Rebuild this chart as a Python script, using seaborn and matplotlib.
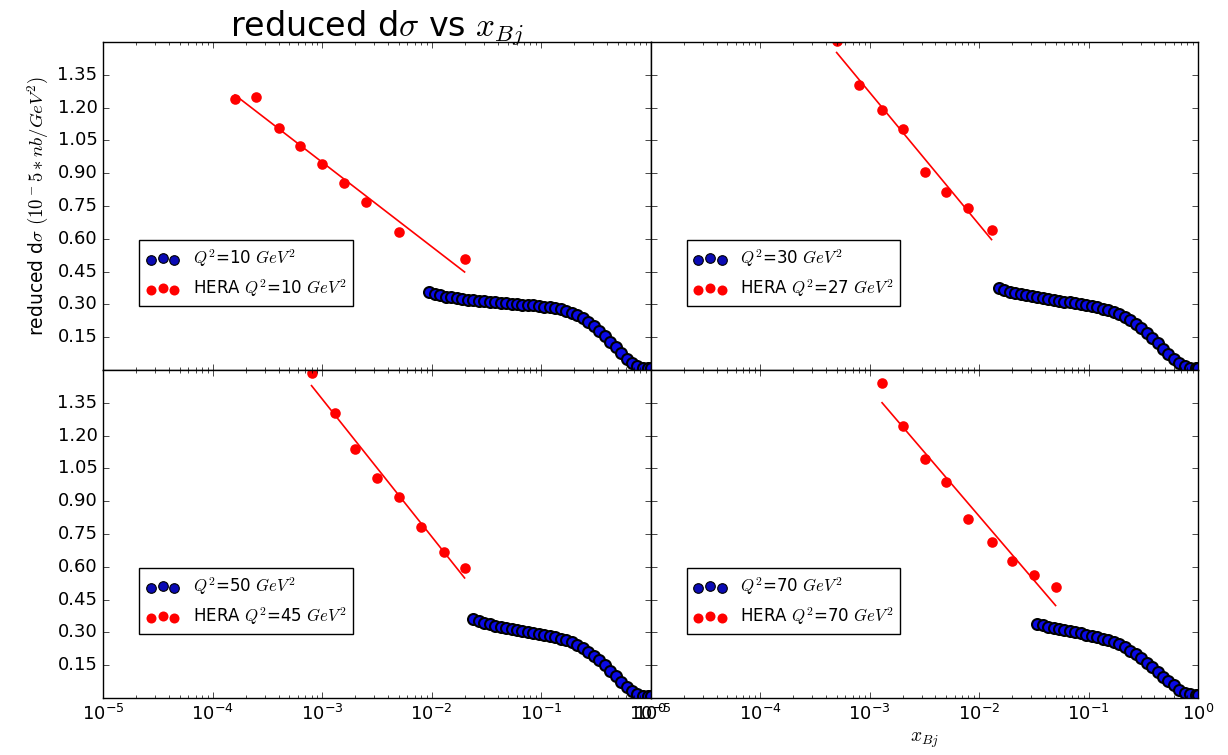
import numpy as np
import seaborn as sns
import matplotlib
matplotlib.use("Agg")
import matplotlib.pyplot as plt

# model curves
x_q10 = [0.00955, 0.0107, 0.0120, 0.0135, 0.0151, 0.0170, 0.0191, 0.0214, 0.0240, 0.0269,
         0.0302, 0.0339, 0.0380, 0.0427, 0.0479, 0.0537, 0.0603, 0.0676, 0.0759, 0.0851,
         0.0955, 0.107, 0.120, 0.135, 0.151, 0.170, 0.191, 0.214, 0.240, 0.269,
         0.302, 0.339, 0.380, 0.427, 0.479, 0.537, 0.603, 0.676, 0.759, 0.851,
         0.955, 1.0]
y_q10 = [0.356, 0.348, 0.341, 0.336, 0.332, 0.328, 0.325, 0.322, 0.319, 0.316,
         0.314, 0.311, 0.309, 0.307, 0.305, 0.303, 0.301, 0.299, 0.297, 0.295,
         0.293, 0.290, 0.287, 0.282, 0.277, 0.270, 0.261, 0.250, 0.237, 0.220,
         0.200, 0.178, 0.154, 0.129, 0.103, 0.076, 0.052, 0.031, 0.017, 0.011,
         0.009, 0.008]

x_q30 = [0.0151, 0.0170, 0.0191, 0.0214, 0.0240, 0.0269,
         0.0302, 0.0339, 0.0380, 0.0427, 0.0479, 0.0537, 0.0603, 0.0676, 0.0759, 0.0851,
         0.0955, 0.107, 0.120, 0.135, 0.151, 0.170, 0.191, 0.214, 0.240, 0.269,
         0.302, 0.339, 0.380, 0.427, 0.479, 0.537, 0.603, 0.676, 0.759, 0.851,
         0.955, 1.0]
y_q30 = [0.375, 0.365, 0.357, 0.351, 0.346, 0.341,
         0.337, 0.333, 0.329, 0.325, 0.321, 0.317, 0.313, 0.309, 0.305, 0.301,
         0.296, 0.291, 0.286, 0.280, 0.273, 0.265, 0.255, 0.243, 0.229, 0.212,
         0.193, 0.171, 0.148, 0.123, 0.098, 0.073, 0.050, 0.030, 0.017, 0.011,
         0.009, 0.008]

x_q50 = [0.0240, 0.0269,
         0.0302, 0.0339, 0.0380, 0.0427, 0.0479, 0.0537, 0.0603, 0.0676, 0.0759, 0.0851,
         0.0955, 0.107, 0.120, 0.135, 0.151, 0.170, 0.191, 0.214, 0.240, 0.269,
         0.302, 0.339, 0.380, 0.427, 0.479, 0.537, 0.603, 0.676, 0.759, 0.851,
         0.955, 1.0]
y_q50 = [0.363, 0.352,
         0.344, 0.337, 0.331, 0.326, 0.321, 0.316, 0.311, 0.306, 0.302, 0.298,
         0.293, 0.289, 0.284, 0.278, 0.272, 0.264, 0.254, 0.242, 0.228, 0.212,
         0.193, 0.172, 0.149, 0.125, 0.100, 0.075, 0.052, 0.032, 0.018, 0.011,
         0.009, 0.008]

x_q70 = [0.0339, 0.0380, 0.0427, 0.0479, 0.0537, 0.0603, 0.0676, 0.0759, 0.0851,
         0.0955, 0.107, 0.120, 0.135, 0.151, 0.170, 0.191, 0.214, 0.240, 0.269,
         0.302, 0.339, 0.380, 0.427, 0.479, 0.537, 0.603, 0.676, 0.759, 0.851,
         0.955, 1.0]
y_q70 = [0.340, 0.332, 0.326, 0.321, 0.316, 0.311, 0.306, 0.301, 0.296,
         0.290, 0.284, 0.278, 0.271, 0.264, 0.256, 0.245, 0.232, 0.217, 0.200,
         0.181, 0.161, 0.140, 0.119, 0.098, 0.078, 0.058, 0.038, 0.025, 0.018,
         0.015, 0.014]

# HERA data
hx_q10 = [1.6e-4, 2.5e-4, 4.0e-4, 6.3e-4, 1.0e-3, 1.6e-3, 2.5e-3, 5.0e-3, 2.0e-2]
hy_q10 = [1.241, 1.247, 1.106, 1.024, 0.941, 0.857, 0.767, 0.629, 0.507]

hx_q27 = [5.0e-4, 8.0e-4, 1.3e-3, 2.0e-3, 3.2e-3, 5.0e-3, 8.0e-3, 1.3e-2]
hy_q27 = [1.505, 1.303, 1.190, 1.103, 0.907, 0.813, 0.740, 0.640]

hx_q45 = [8.0e-4, 1.3e-3, 2.0e-3, 3.2e-3, 5.0e-3, 8.0e-3, 1.3e-2, 2.0e-2]
hy_q45 = [1.485, 1.304, 1.138, 1.005, 0.917, 0.782, 0.668, 0.596]

hx_q70 = [1.3e-3, 2.0e-3, 3.2e-3, 5.0e-3, 8.0e-3, 1.3e-2, 2.0e-2, 3.2e-2, 5.0e-2]
hy_q70 = [1.441, 1.243, 1.094, 0.987, 0.820, 0.713, 0.625, 0.561, 0.506]

q2_model = [10, 30, 50, 70]
q2_hera = [10, 27, 45, 70]

plt.style.use('classic')

fig, axes = plt.subplots(2, 2, sharex=True, sharey=True, figsize=(12.28, 7.55))
fig.subplots_adjust(left=0.084, right=0.9756, top=0.9444, bottom=0.0755, hspace=0, wspace=0)

panels = [(x_q10, y_q10, hx_q10, hy_q10), (x_q30, y_q30, hx_q27, hy_q27),
          (x_q50, y_q50, hx_q45, hy_q45), (x_q70, y_q70, hx_q70, hy_q70)]

for i, (ax, (mx, my, hx, hy)) in enumerate(zip(axes.flatten(), panels)):
    ax.set_xscale('log')
    sns.scatterplot(x=mx, y=my, ax=ax, color='#0a0ae6', edgecolor='black', linewidth=1.5,
                    s=62, label=r'$Q^2$=%d $GeV^2$' % q2_model[i])
    sns.scatterplot(x=hx, y=hy, ax=ax, color='red', edgecolor='red', linewidth=0,
                    s=58, label=r'HERA $Q^2$=%d $GeV^2$' % q2_hera[i])
    # linear fit in log(x)
    p = np.polyfit(np.log10(hx), hy, 1)
    xf = np.array([min(hx), max(hx)])
    sns.lineplot(x=xf, y=np.polyval(p, np.log10(xf)), ax=ax, color='red', linewidth=1.2)
    ax.set_xlim(1e-5, 1)
    ax.set_ylim(0, 1.5)
    ax.set_yticks([0.15, 0.30, 0.45, 0.60, 0.75, 0.90, 1.05, 1.20, 1.35])
    leg = ax.legend(loc='lower left', bbox_to_anchor=(0.066, 0.196), borderaxespad=0,
                    fontsize=12, scatterpoints=3)
    blue = leg.legend_handles[0]
    blue.set_sizes([48])
    blue.set_linewidth(0.8)
    blue.set_facecolor('#0a0ab4')
    leg.legend_handles[1].set_sizes([52])
    ax.tick_params(labelsize=13)

axes[0, 0].set_title(r'reduced d$\sigma$ vs $x_{Bj}$', fontsize=24)
axes[0, 0].set_ylabel(r'reduced d$\sigma$ $(10^-5*nb/GeV^2)$', fontsize=13.5)
axes[1, 1].set_xlabel(r'$x_{Bj}$', fontsize=14)

fig.savefig('out.png', dpi=100)
